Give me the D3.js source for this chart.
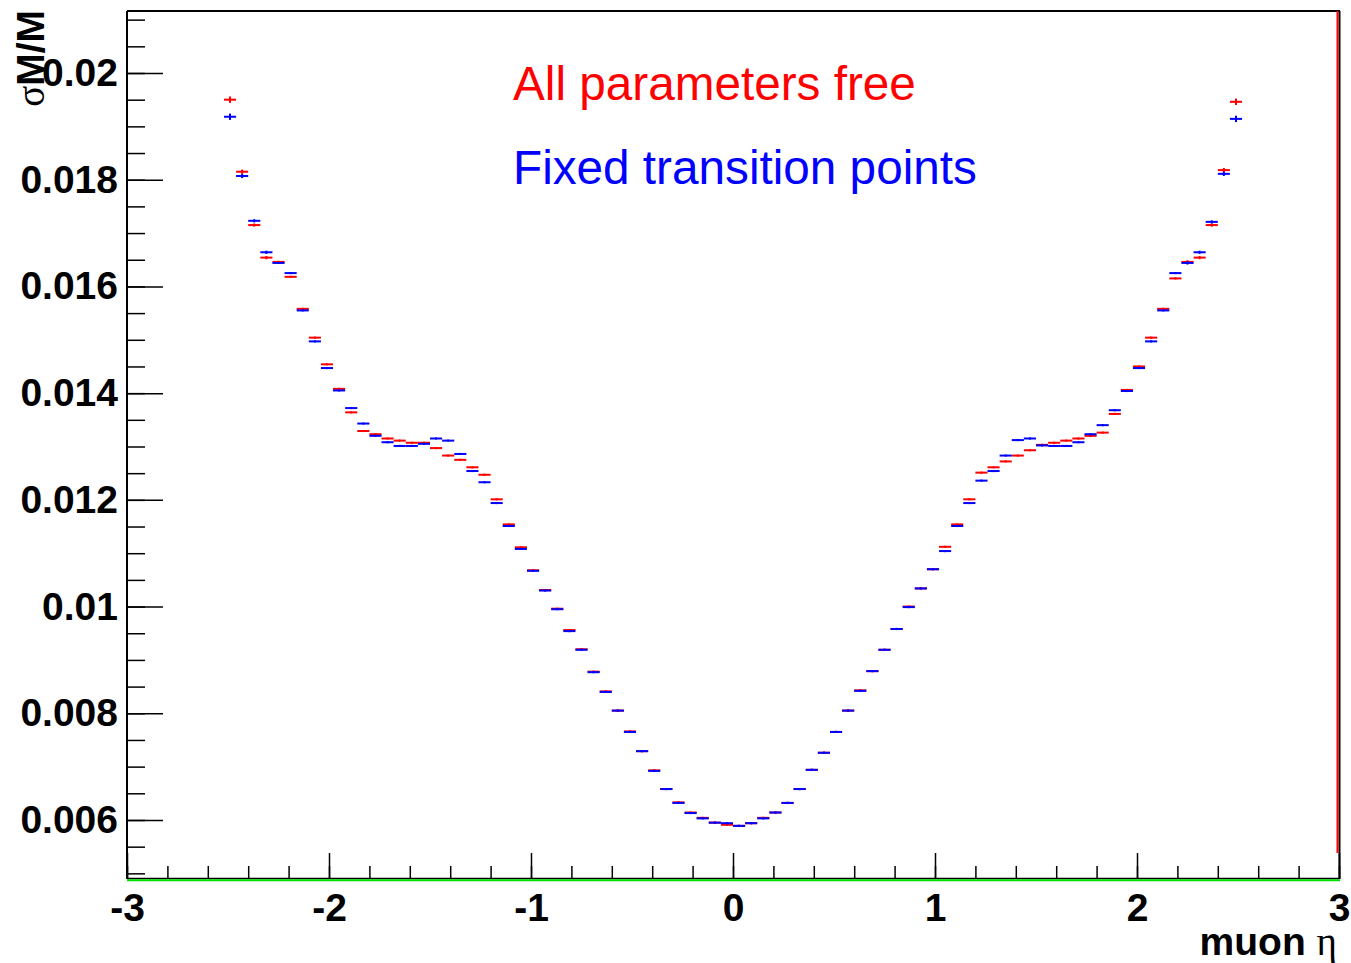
<!DOCTYPE html>
<html>
<head>
<meta charset="utf-8">
<script src="https://cdn.jsdelivr.net/npm/d3@7"></script>
<style>
  html, body { margin: 0; padding: 0; background: #fff; }
  svg { display: block; }
  .tick text { font-family: "Liberation Sans", Arial, sans-serif; font-weight: bold; font-size: 39px; fill: #000; }
  .tick line { stroke: #000; stroke-width: 1.5; }
</style>
</head>
<body>
<svg id="chart" width="1351" height="963"></svg>
<script>
// Axis labels
const xTickLabels = ["-3", "-2", "-1", "0", "1", "2", "3"];
const yTickLabels = ["0.006", "0.008", "0.01", "0.012", "0.014", "0.016", "0.018", "0.02"];

// Binning in muon eta: 84 bins of width 0.06 starting at -2.52
const etaMin = -2.52;
const etaBinWidth = 0.06;

// Relative mass resolution per eta bin, all parameters free (red)
const freeFit = [
  0.01950, 0.01815, 0.01715, 0.01654, 0.01646, 0.01618, 0.01558, 0.01504, 0.01454, 0.01408,
  0.01364, 0.01329, 0.01323, 0.01315, 0.01311, 0.01307, 0.01307, 0.01297, 0.01283, 0.01275,
  0.01261, 0.01247, 0.01201, 0.01154, 0.01111, 0.01068, 0.01031, 0.00996, 0.00956, 0.00920,
  0.00878, 0.00841, 0.00805, 0.00766, 0.00729, 0.00693, 0.00658, 0.00633, 0.00614, 0.00604,
  0.00595, 0.00591, 0.00589, 0.00594, 0.00604, 0.00614, 0.00632, 0.00658, 0.00694, 0.00726,
  0.00765, 0.00805, 0.00843, 0.00879, 0.00919, 0.00958, 0.01000, 0.01034, 0.01070, 0.01112,
  0.01154, 0.01201, 0.01251, 0.01261, 0.01272, 0.01283, 0.01293, 0.01303, 0.01307, 0.01311,
  0.01315, 0.01320, 0.01326, 0.01361, 0.01406, 0.01450, 0.01504, 0.01558, 0.01615, 0.01646,
  0.01654, 0.01715, 0.01818, 0.01946
];

// Relative mass resolution per eta bin, fixed transition points (blue)
const fixedFit = [
  0.01918, 0.01807, 0.01723, 0.01664, 0.01644, 0.01625, 0.01555, 0.01497, 0.01447, 0.01405,
  0.01372, 0.01343, 0.01320, 0.01308, 0.01301, 0.01301, 0.01305, 0.01315, 0.01311, 0.01286,
  0.01254, 0.01233, 0.01194, 0.01151, 0.01108, 0.01067, 0.01030, 0.00995, 0.00954, 0.00919,
  0.00877, 0.00840, 0.00805, 0.00765, 0.00729, 0.00692, 0.00658, 0.00632, 0.00613, 0.00603,
  0.00595, 0.00594, 0.00589, 0.00594, 0.00603, 0.00614, 0.00632, 0.00658, 0.00694, 0.00726,
  0.00765, 0.00805, 0.00842, 0.00879, 0.00919, 0.00958, 0.00999, 0.01034, 0.01070, 0.01104,
  0.01151, 0.01194, 0.01236, 0.01254, 0.01283, 0.01312, 0.01315, 0.01302, 0.01301, 0.01301,
  0.01308, 0.01323, 0.01340, 0.01368, 0.01404, 0.01447, 0.01497, 0.01555, 0.01625, 0.01644,
  0.01664, 0.01721, 0.01811, 0.01914
];

// Statistical errors per bin (same for both fits)
const binErrors = [
  0.00006, 0.00004, 0.00003, 0.00003, 0.00002, 0.00002, 0.00002, 0.00002, 0.00002, 0.00002,
  0.00002, 0.00002, 0.00002, 0.00002, 0.00002, 0.00002, 0.00002, 0.00002, 0.00002, 0.00002,
  0.00002, 0.00002, 0.00002, 0.00002, 0.00002, 0.00002, 0.00002, 0.00002, 0.00002, 0.00002,
  0.00002, 0.00002, 0.00002, 0.00002, 0.00002, 0.00002, 0.00002, 0.00002, 0.00002, 0.00002,
  0.00002, 0.00002, 0.00002, 0.00002, 0.00002, 0.00002, 0.00002, 0.00002, 0.00002, 0.00002,
  0.00002, 0.00002, 0.00002, 0.00002, 0.00002, 0.00002, 0.00002, 0.00002, 0.00002, 0.00002,
  0.00002, 0.00002, 0.00002, 0.00002, 0.00002, 0.00002, 0.00002, 0.00002, 0.00002, 0.00002,
  0.00002, 0.00002, 0.00002, 0.00002, 0.00002, 0.00002, 0.00002, 0.00002, 0.00002, 0.00003,
  0.00003, 0.00003, 0.00004, 0.00006
];

const series = [
  { label: "All parameters free", color: "#ff0000", values: freeFit, errors: binErrors },
  { label: "Fixed transition points", color: "#0000ff", values: fixedFit, errors: binErrors }
];

const W = 1351, H = 963;
const frame = { left: 127, right: 1339, top: 11, bottom: 879 };

const x = d3.scaleLinear().domain([-3, 3]).range([frame.left, frame.right]);
const y = d3.scaleLinear().domain([0.004894, 0.021162]).range([frame.bottom, frame.top]);

const svg = d3.select("#chart");
svg.append("rect").attr("width", W).attr("height", H).attr("fill", "#fff");

// Histogram bars with error bars; red first, blue on top
series.forEach(s => {
  const g = svg.append("g").attr("stroke", s.color).attr("stroke-width", 2).attr("fill", "none");
  s.values.forEach((v, i) => {
    const lo = etaMin + i * etaBinWidth;
    const hi = lo + etaBinWidth;
    const c = lo + etaBinWidth / 2;
    g.append("line")
      .attr("x1", x(lo)).attr("x2", x(hi))
      .attr("y1", y(v)).attr("y2", y(v));
    g.append("line")
      .attr("x1", x(c)).attr("x2", x(c))
      .attr("y1", y(v - s.errors[i])).attr("y2", y(v + s.errors[i]));
  });
});

// Y axis: minor and major ticks pointing into the frame
const yMinor = d3.range(0.005, 0.02101, 0.0005);
svg.append("g").attr("transform", `translate(${frame.left},0)`)
  .call(d3.axisLeft(y).tickValues(yMinor).tickSize(-18).tickFormat(""))
  .call(g => g.select(".domain").remove());
svg.append("g").attr("transform", `translate(${frame.left},0)`)
  .call(d3.axisLeft(y).tickValues(yTickLabels.map(Number)).tickSize(-36).tickPadding(9)
    .tickFormat((d, i) => yTickLabels[i]))
  .call(g => g.select(".domain").remove());

// X axis: minor and major ticks pointing up
const xMinor = d3.range(-3, 3.001, 0.2);
svg.append("g").attr("transform", `translate(0,${frame.bottom})`)
  .call(d3.axisBottom(x).tickValues(xMinor).tickSize(-13).tickFormat(""))
  .call(g => g.select(".domain").remove());
svg.append("g").attr("transform", `translate(0,${frame.bottom})`)
  .call(d3.axisBottom(x).tickValues(xTickLabels.map(Number)).tickSize(-26).tickPadding(14)
    .tickFormat((d, i) => xTickLabels[i]))
  .call(g => g.select(".domain").remove());

// Frame
const frameG = svg.append("g").attr("fill", "none");
frameG.append("line").attr("x1", frame.left).attr("x2", frame.right + 1).attr("y1", frame.top).attr("y2", frame.top)
  .attr("stroke", "#000").attr("stroke-width", 2);
frameG.append("line").attr("x1", frame.left).attr("x2", frame.left).attr("y1", frame.top).attr("y2", frame.bottom)
  .attr("stroke", "#000").attr("stroke-width", 2);
frameG.append("line").attr("x1", frame.right + 0.5).attr("x2", frame.right + 0.5).attr("y1", frame.top).attr("y2", frame.bottom)
  .attr("stroke", "#000").attr("stroke-width", 2);
frameG.append("line").attr("x1", frame.right - 1.5).attr("x2", frame.right - 1.5).attr("y1", frame.top).attr("y2", frame.bottom - 26)
  .attr("stroke", "#ff0000").attr("stroke-width", 2);
frameG.append("line").attr("x1", frame.left).attr("x2", frame.right + 1).attr("y1", frame.bottom - 0.5).attr("y2", frame.bottom - 0.5)
  .attr("stroke", "#000").attr("stroke-width", 1.5);
frameG.append("line").attr("x1", frame.left).attr("x2", frame.right + 1).attr("y1", frame.bottom + 1.2).attr("y2", frame.bottom + 1.2)
  .attr("stroke", "#00dd00").attr("stroke-width", 2);

// Series labels
series.forEach((s, k) => {
  svg.append("text")
    .attr("x", 513).attr("y", 100 + k * 84)
    .attr("font-family", "'Liberation Sans', Arial, sans-serif")
    .attr("font-size", 47.7)
    .attr("fill", s.color)
    .text(s.label);
});

// Axis titles
const xTitle = svg.append("text")
  .attr("x", 1337).attr("y", 955)
  .attr("text-anchor", "end")
  .attr("font-size", 39);
xTitle.append("tspan").attr("font-family", "'Liberation Sans', Arial, sans-serif").attr("font-weight", "bold").text("muon ");
xTitle.append("tspan").attr("font-family", "'Liberation Serif', 'Times New Roman', serif").text("η");

const yTitle = svg.append("text")
  .attr("transform", "translate(44,10) rotate(-90)")
  .attr("text-anchor", "end")
  .attr("font-size", 39);
yTitle.append("tspan").attr("font-family", "'Liberation Serif', 'Times New Roman', serif").text("σ");
yTitle.append("tspan").attr("font-family", "'Liberation Sans', Arial, sans-serif").attr("font-weight", "bold").text("M/M");
</script>
</body>
</html>
